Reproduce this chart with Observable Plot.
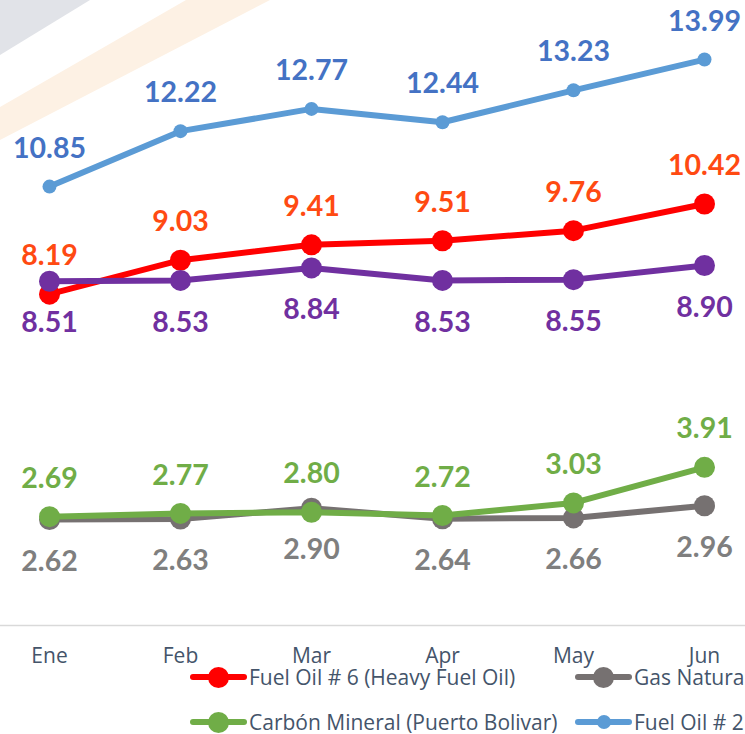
<!DOCTYPE html>
<html>
<head>
<meta charset="utf-8">
<script src="https://cdn.jsdelivr.net/npm/d3@7"></script>
<script src="https://cdn.jsdelivr.net/npm/@observablehq/plot@0.6"></script>
<style>
  html, body { margin: 0; padding: 0; background: #fff; }
  #wrap { position: relative; width: 745px; height: 734px; overflow: hidden; font-family: Lato, "Open Sans", sans-serif; }
  #bg { position: absolute; left: 0; top: 0; }
  #chart { position: absolute; left: 0; top: 0; }
  #legend { position: absolute; left: 190px; top: 665px; display: grid; grid-template-columns: 385px 200px; row-gap: 21px; }
  .item { display: flex; align-items: center; height: 24px; white-space: nowrap; font-family: "Open Sans", Lato, sans-serif; font-size: 21px; color: #44546A; }
  .sw { position: relative; width: 57px; height: 24px; margin-right: 2px; flex: none; }
  .sw .ln { position: absolute; left: 0; right: 0; top: 9px; height: 6px; border-radius: 3px; }
  .sw .dt { position: absolute; border-radius: 50%; }
</style>
</head>
<body>
<div id="wrap">
  <svg id="bg" width="745" height="300">
    <polygon points="0,0 90,0 0,55" fill="#E1E3E8"></polygon>
    <polygon points="186,0 270,0 0,140 0,107" fill="#FDF1E4"></polygon>
  </svg>
  <div id="chart"></div>
  <div id="legend"></div>
</div>
<script>
// ---- Data ----
const months = ["Ene", "Feb", "Mar", "Apr", "May", "Jun"];
const fuelOil6 = [8.19, 9.03, 9.41, 9.51, 9.76, 10.42];
const gasNatural = [2.62, 2.63, 2.90, 2.64, 2.66, 2.96];
const serie3 = [8.51, 8.53, 8.84, 8.53, 8.55, 8.90];
const carbonMineral = [2.69, 2.77, 2.80, 2.72, 3.03, 3.91];
const fuelOil2 = [10.85, 12.22, 12.77, 12.44, 13.23, 13.99];

const seriesNames = ["Fuel Oil # 6 (Heavy Fuel Oil)", "Gas Natural", "Serie 3", "Carbón Mineral (Puerto Bolivar)", "Fuel Oil # 2"];
const seriesValues = [fuelOil6, gasNatural, serie3, carbonMineral, fuelOil2];
const lineColors = ["#FF0000", "#767171", "#7030A0", "#70AD47", "#5B9BD5"];
const labelColors = ["#FF4A12", "#7F7F7F", "#7030A0", "#70AD47", "#4472C4"];
const markerR = [10.5, 10.5, 10.5, 10.5, 7];
const labelBelow = [false, true, true, false, false];
const inLegend = [true, true, false, true, true];

// ---- Build table ----
const series = seriesNames.map((name, i) => ({
  name, color: lineColors[i], labelColor: labelColors[i], r: markerR[i], below: labelBelow[i],
  data: months.map((m, j) => ({month: m, value: seriesValues[i][j]}))
}));

const marks = [Plot.ruleY([0], {stroke: "#D9D9D9", strokeWidth: 1.5})];
for (const s of series) {
  marks.push(Plot.line(s.data, {x: "month", y: "value", stroke: s.color, strokeWidth: 6, curve: "linear"}));
  marks.push(Plot.dot(s.data, {x: "month", y: "value", r: s.r, fill: s.color, stroke: "none"}));
}
for (const s of series) {
  marks.push(Plot.text(s.data, {
    x: "month", y: "value", text: d => d.value.toFixed(2),
    dy: s.below ? 42 : -38, fill: s.labelColor, fontSize: 28.5, fontWeight: "bold",
    fontFamily: "Lato, 'Open Sans', sans-serif"
  }));
}
marks.push(Plot.axisX({tickSize: 0, tickPadding: 23, fontSize: 21, fontWeight: 400, fill: "#44546A", fontFamily: "'Open Sans', sans-serif"}));

const chart = Plot.plot({
  width: 745,
  height: 668,
  marginLeft: 0,
  marginRight: 0,
  marginTop: 0,
  marginBottom: 43,
  style: {fontFamily: "'Open Sans', Lato, sans-serif", color: "#44546A", background: "transparent", overflow: "visible"},
  x: {type: "point", domain: months, range: [48, 704], padding: 0, label: null, axis: null},
  y: {domain: [0, 15.45], axis: null},
  marks
});
document.getElementById("chart").appendChild(chart);

// ---- Legend ----
const legend = document.getElementById("legend");
series.forEach((s, i) => {
  if (!inLegend[i]) return;
  const item = document.createElement("div");
  item.className = "item";
  const sw = document.createElement("span");
  sw.className = "sw";
  const ln = document.createElement("span");
  ln.className = "ln";
  ln.style.background = s.color;
  const dt = document.createElement("span");
  dt.className = "dt";
  const d = s.r * 2;
  dt.style.width = d + "px"; dt.style.height = d + "px";
  dt.style.left = (28.5 - s.r) + "px"; dt.style.top = (12 - s.r) + "px";
  dt.style.background = s.color;
  sw.appendChild(ln); sw.appendChild(dt);
  const tx = document.createElement("span");
  tx.textContent = s.name;
  item.appendChild(sw); item.appendChild(tx);
  legend.appendChild(item);
});
</script>
</body>
</html>
